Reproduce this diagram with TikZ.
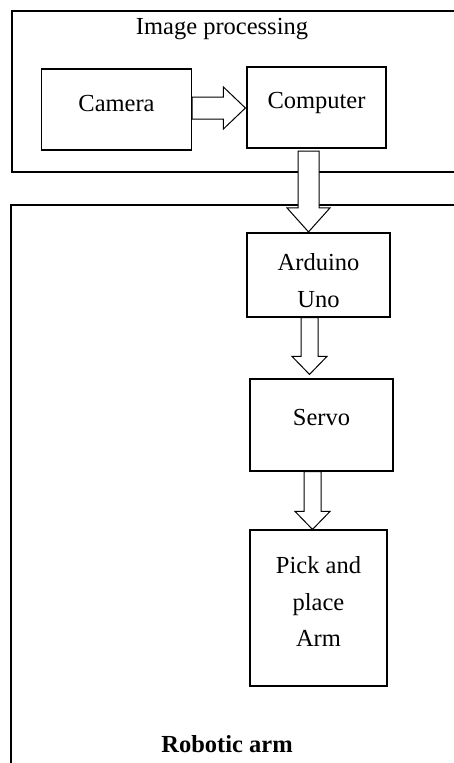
\documentclass[tikz,border=0pt]{standalone}
\usepackage{fontspec}
\setmainfont{Liberation Serif}
\usetikzlibrary{calc}
\tikzset{
  box/.style={draw, line width=1.2pt, rectangle, inner sep=0pt},
  txt/.style={inner sep=0pt, align=center, font=\fontsize{24.5}{36.5}\selectfont},
  group/.style={draw, line width=1.4pt},
  title/.style={inner sep=0pt, font=\fontsize{24.5}{29}\selectfont},
  blk/.style={draw, line width=1pt, fill=white, line join=miter}
}
\newcommand\dnarrow[5]{%
  \draw[blk] let \p1=(#1), \p2=(#2) in
    (\x1-#3,\y1) -- (\x1-#3,\y2+#5) -- (\x1-#4,\y2+#5) -- (\x1,\y2)
    -- (\x1+#4,\y2+#5) -- (\x1+#3,\y2+#5) -- (\x1+#3,\y1) -- cycle;}
\newcommand\rtarrow[5]{%
  \draw[blk] let \p1=(#1), \p2=(#2) in
    (\x1,\y1+#3) -- (\x2-#5,\y1+#3) -- (\x2-#5,\y1+#4) -- (\x2,\y1)
    -- (\x2-#5,\y1-#4) -- (\x2-#5,\y1-#3) -- (\x1,\y1-#3) -- cycle;}
\begin{document}
\begin{tikzpicture}[x=1pt, y=-1pt]
  \useasboundingbox (0,0) rectangle (454,763);
  \clip (0,0) rectangle (454,763);
  \fill[white] (0,0) rectangle (454,763);
  % group frames
  \draw[group] (12,11) rectangle (480,172);
  \draw[group] (11,205) rectangle (480,790);
  \node[title] (tip) at (222,29) {Image processing};
  \node[title, font=\fontsize{24.5}{29}\selectfont\bfseries] (tra) at (227,744) {Robotic arm};
  % blocks
  \node[box, minimum width=150pt, minimum height=81pt,
        label={[txt, yshift=6pt]center:Camera}] (camera) at (116.5,109.5) {};
  \node[box, minimum width=139pt, minimum height=81pt,
        label={[txt, yshift=4.5pt]center:Computer}] (computer) at (316.5,107.5) {};
  \node[box, minimum width=143pt, minimum height=84pt,
        label={[txt, yshift=-5.5pt]center:Arduino\\Uno}] (arduino) at (318.5,275) {};
  \node[box, minimum width=143pt, minimum height=92pt,
        label={[txt, yshift=7pt]center:Servo}] (servo) at (321.5,425) {};
  \node[box, minimum width=137pt, minimum height=156pt,
        label={[txt, yshift=6.5pt]center:Pick and\\place\\Arm}] (pick) at (318.5,608) {};
  % connector anchor points
  \coordinate (c1s) at ($(camera.east)+(0,-1.5)$);
  \coordinate (c1e) at ($(computer.west)+(-1,0)$);
  \coordinate (c2s) at ($(computer.south)+(-8,2.5)$);
  \coordinate (c2e) at ($(arduino.north)+(-10,-0.5)$);
  \coordinate (c3s) at ($(arduino.south)+(-9,0)$);
  \coordinate (c3e) at ($(servo.north)+(-11.5,-4)$);
  \coordinate (c4s) at ($(servo.south)+(-9,0)$);
  \coordinate (c4e) at ($(pick.north)+(-5.5,0)$);
  % block arrows
  \rtarrow{c1s}{c1e}{11pt}{21pt}{22pt}
  \dnarrow{c2s}{c2e}{10.5pt}{21.5pt}{24pt}
  \dnarrow{c3s}{c3e}{8.5pt}{17.5pt}{18pt}
  \dnarrow{c4s}{c4e}{8.5pt}{17.5pt}{18pt}
\end{tikzpicture}
\end{document}
